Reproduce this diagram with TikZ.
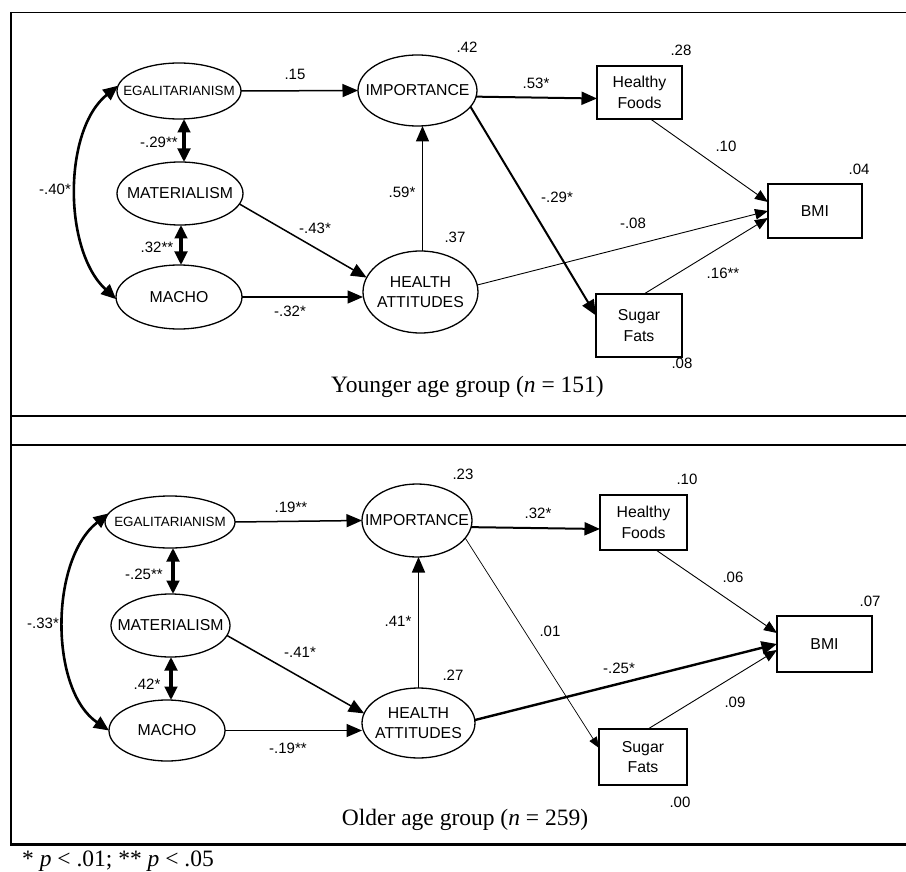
\documentclass[tikz,border=0pt]{standalone}
\usepackage{fontspec}
\setmainfont{Liberation Serif}
\newfontfamily\arialf{Liberation Sans}
\usetikzlibrary{arrows.meta,shapes.geometric}
\begin{document}
\begin{tikzpicture}[x=1pt,y=-1pt,
  every node/.style={font=\arialf\fontsize{15}{19}\selectfont},
  lat/.style={ellipse,draw,line width=1.3pt,inner xsep=-25pt,inner ysep=-10pt,outer sep=0pt,align=center,font=\arialf\fontsize{15.8}{19.5}\selectfont},
  egalfont/.style={font=\arialf\fontsize{13.4}{15}\selectfont},
  obs/.style={rectangle,draw,line width=1.4pt,inner sep=0pt,outer sep=0pt,align=center,font=\arialf\fontsize{15.8}{20.5}\selectfont},
  lbl/.style={inner sep=0pt},
  capt/.style={inner sep=0pt,anchor=base,font=\fontsize{23.5}{27}\selectfont},
  frameline/.style={line width=1.3pt},
  arrThin/.style={line width=0.9pt,-{Triangle[length=13pt,width=10.5pt]}},
  arrFine/.style={line width=0.7pt,-{Triangle[length=11pt,width=8.5pt]}},
  arrMed/.style={line width=1.5pt,-{Triangle[length=15.5pt,width=13pt]}},
  arrHeavy/.style={line width=2pt,-{Triangle[length=15.5pt,width=13pt]}},
  arrBold/.style={line width=2.4pt,-{Triangle[length=15.5pt,width=13pt]}},
  dblArrow/.style={line width=3.2pt,{Triangle[length=13.5pt,width=12.5pt]}-{Triangle[length=13.5pt,width=12.5pt]}},
  curveArrow/.style={line width=2.6pt,{Triangle[length=15pt,width=13pt]}-{Triangle[length=15pt,width=13pt]}}
]
\useasboundingbox (0,0) rectangle (906,872);

% frame
\draw[frameline] (11,12.5) -- (906,12.5);
\draw[frameline] (11,12) -- (11,845);
\draw[frameline] (11,416) -- (906,416);
\draw[frameline] (11,445) -- (906,445);
\draw[line width=2.7pt] (10,844.5) -- (906,844.5);

% ---------------- upper panel ----------------
\node[lat,egalfont,minimum width=124pt,minimum height=56pt] (egal1) at (179,91) {EGALITARIANISM};
\node[lat,minimum width=126pt,minimum height=63pt] (mat1) at (180,193.5) {MATERIALISM};
\node[lat,minimum width=126pt,minimum height=64pt] (macho1) at (179,297) {MACHO};
\node[lat,minimum width=119pt,minimum height=71pt] (imp1) at (417.5,90.5) {IMPORTANCE};
\node[lat,minimum width=115pt,minimum height=82pt] (ha1) at (420.5,292) {HEALTH\\ATTITUDES};
\node[obs,minimum width=85pt,minimum height=53pt] (hf1) at (639.5,92.5) {Healthy\\Foods};
\node[obs,minimum width=94pt,minimum height=54pt] (bmi1) at (815,211) {BMI};
\node[obs,minimum width=86pt,minimum height=63pt] (sf1) at (639,325.5) {Sugar\\Fats};

\draw[arrMed] (egal1.east) -- (imp1.west);
\draw[dblArrow] ([xshift=5pt]egal1.south) -- ([xshift=4pt]mat1.north);
\draw[dblArrow] ([xshift=1pt]mat1.south) -- ([xshift=2pt]macho1.north);
\draw[curveArrow] (egal1.175) .. controls (63,130) and (63,250) .. (macho1.182);
\draw[arrMed] (mat1.-10) -- (ha1.165);
\draw[arrMed] (macho1.east) -- (macho1.east -| ha1.west);
\draw[arrMed] ([xshift=2pt]ha1.north) -- ([xshift=2pt]ha1.north |- imp1.south);
\draw[arrHeavy] (imp1.-6) -- ([yshift=-6pt]hf1.west);
\draw[arrThin] ([xshift=11pt]hf1.south) -- ([yshift=9pt]bmi1.west);
\draw[arrThin] (ha1.7) -- (bmi1.west);
\draw[arrThin] ([xshift=5pt]sf1.north) -- ([yshift=-7pt]bmi1.west);
\draw[arrHeavy] (imp1.-17) -- ([yshift=10pt]sf1.west);

\node[lbl] (u1) at (295,74) {.15};
\node[lbl] (u2) at (159,142) {-.29**};
\node[lbl] (u3) at (55,189) {-.40*};
\node[lbl] (u4) at (157,247) {.32**};
\node[lbl] (u5) at (315,228) {-.43*};
\node[lbl] (u6) at (402,192) {.59*};
\node[lbl] (u7) at (290,311) {-.32*};
\node[lbl] (u8) at (536,83) {.53*};
\node[lbl] (u9) at (726,146) {.10};
\node[lbl] (u10) at (557,197) {-.29*};
\node[lbl] (u11) at (633,223) {-.08};
\node[lbl] (u12) at (723,273) {.16**};
\node[lbl] (r1) at (467,47) {.42};
\node[lbl] (r2) at (681,50) {.28};
\node[lbl] (r3) at (859,169) {.04};
\node[lbl] (r4) at (455,237) {.37};
\node[lbl] (r5) at (682,363) {.08};
\node[capt] (cap1) at (467.5,392) {Younger age group (\textit{n} = 151)};

% ---------------- lower panel ----------------
\node[lat,egalfont,minimum width=130pt,minimum height=52pt] (egal2) at (170,522) {EGALITARIANISM};
\node[lat,minimum width=119pt,minimum height=63pt] (mat2) at (170.5,625.5) {MATERIALISM};
\node[lat,minimum width=116pt,minimum height=61pt] (macho2) at (167,730.5) {MACHO};
\node[lat,minimum width=110pt,minimum height=73pt] (imp2) at (417,520.5) {IMPORTANCE};
\node[lat,minimum width=113pt,minimum height=70pt] (ha2) at (418.5,723) {HEALTH\\ATTITUDES};
\node[obs,minimum width=87pt,minimum height=55pt] (hf2) at (643.5,522.5) {Healthy\\Foods};
\node[obs,minimum width=95pt,minimum height=56pt] (bmi2) at (824.5,644) {BMI};
\node[obs,minimum width=88pt,minimum height=56pt] (sf2) at (643,757) {Sugar\\Fats};

\draw[arrMed] (egal2.east) -- (imp2.west);
\draw[dblArrow] ([xshift=3pt]egal2.south) -- ([xshift=2.5pt]mat2.north);
\draw[dblArrow] ([xshift=0.5pt]mat2.south) -- ([xshift=4pt]macho2.north);
\draw[curveArrow] (egal2.172) .. controls (49.5,560) and (49.5,690) .. (macho2.180);
\draw[arrMed] (mat2.-10) -- (ha2.170);
\draw[arrMed] (macho2.east) -- (macho2.east -| ha2.west);
\draw[arrMed] (ha2.north) -- (ha2.north |- imp2.south);
\draw[arrHeavy] (imp2.-7) -- ([yshift=-6.5pt]hf2.west);
\draw[arrThin] ([xshift=12.5pt]hf2.south) -- ([yshift=11pt]bmi2.west);
\draw[arrBold] (ha2.3) -- (bmi2.west);
\draw[arrThin] ([xshift=5pt]sf2.north) -- ([yshift=-6pt]bmi2.west);
\draw[arrFine] (imp2.-20) -- ([yshift=9pt]sf2.west);

\node[lbl] (v1) at (291,507) {.19**};
\node[lbl] (v2) at (144,574) {-.25**};
\node[lbl] (v3) at (43,623) {-.33*};
\node[lbl] (v4) at (147,684) {.42*};
\node[lbl] (v5) at (300,652) {-.41*};
\node[lbl] (v6) at (398,621) {.41*};
\node[lbl] (v7) at (288,748) {-.19**};
\node[lbl] (v8) at (538,513) {.32*};
\node[lbl] (v9) at (733,577) {.06};
\node[lbl] (v10) at (550,631) {.01};
\node[lbl] (v11) at (619,668) {-.25*};
\node[lbl] (v12) at (735,702) {.09};
\node[lbl] (s1) at (463,474) {.23};
\node[lbl] (s2) at (687,479) {.10};
\node[lbl] (s3) at (870,601) {.07};
\node[lbl] (s4) at (453,675) {.27};
\node[lbl] (s5) at (680,802) {.00};
\node[capt] (cap2) at (465,825) {Older age group (\textit{n} = 259)};

\node[capt,anchor=base west] (foot) at (22,866) {* \textit{p} < .01; ** \textit{p} < .05};
\end{tikzpicture}
\end{document}
